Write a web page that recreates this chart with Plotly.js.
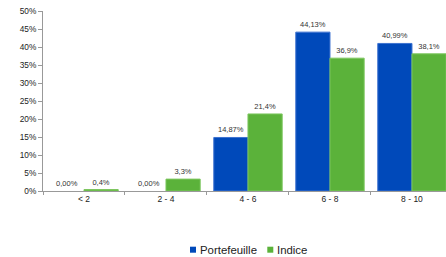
<!DOCTYPE html>
<html><head><meta charset="utf-8">
<script src="https://cdn.plot.ly/plotly-3.0.1.min.js"></script>
<style>html,body{margin:0;padding:0;background:#fff}#chart{width:446px;height:257px}</style>
</head><body><div id="chart"></div>
<script>
const categories = ["< 2", "2 - 4", "4 - 6", "6 - 8", "8 - 10"];
const seriesNames = ["Portefeuille", "Indice"];
const portefeuille = [0.00, 0.00, 14.87, 44.13, 40.99];
const indice = [0.4, 3.3, 21.4, 36.9, 38.1];
const portefeuilleLabels = ["0,00%", "0,00%", "14,87%", "44,13%", "40,99%"];
const indiceLabels = ["0,4%", "3,3%", "21,4%", "36,9%", "38,1%"];
const yTickSuffix = "%";

const BLUE = "#0049BA", GREEN = "#5BB23A";
const FONT = "Liberation Sans, Arial, sans-serif";
const labelFont = {family: FONT, size: 7.5, color: "#333"};
function edgeWidths(vals) { return vals.map(v => v > 0 ? 1 : 0); }

const traces = [
  {type: "bar", name: seriesNames[0], x: categories, y: portefeuille, text: portefeuilleLabels,
   textposition: "outside", textfont: labelFont, cliponaxis: false, hoverinfo: "none", showlegend: false,
   marker: {color: BLUE, line: {color: "#3D72D0", width: edgeWidths(portefeuille)}}},
  {type: "bar", name: seriesNames[1], x: categories, y: indice, text: indiceLabels,
   textposition: "outside", textfont: labelFont, cliponaxis: false, hoverinfo: "none", showlegend: false,
   marker: {color: GREEN, line: {color: "#7CC65E", width: edgeWidths(indice)}}}
];

// legend drawn as small squares + real text (plot area: x 43..446, y 11..191 px)
const px = x => (x - 43) / 403, py = y => (191 - y) / 180;
const legendItems = [
  {name: seriesNames[0], color: BLUE, sq: 190},
  {name: seriesNames[1], color: GREEN, sq: 267.3}
];
const shapes = legendItems.map(it => ({type: "rect", xref: "paper", yref: "paper",
  x0: px(it.sq), x1: px(it.sq + 6), y0: py(252.7), y1: py(246.7), fillcolor: it.color, line: {width: 0}}));
const annotations = legendItems.map(it => ({xref: "paper", yref: "paper", x: px(it.sq + 8.5), y: py(249.8),
  xanchor: "left", yanchor: "middle", text: it.name, showarrow: false, borderpad: 0,
  font: {family: FONT, size: 11.4, color: "#222"}}));

const layout = {
  width: 446, height: 257,
  margin: {l: 43, r: 0, t: 11, b: 66},
  paper_bgcolor: "#fff", plot_bgcolor: "#fff",
  barmode: "group", bargap: 0.166, bargroupgap: 0,
  font: {family: FONT, color: "#222"},
  xaxis: {range: [-0.5, 4.415], showline: true, linecolor: "#999", linewidth: 1,
          ticks: "outside", tickson: "boundaries", ticklen: 3, tickcolor: "#999",
          showgrid: false, tickfont: {size: 8.5, color: "#222"}, fixedrange: true},
  yaxis: {range: [0, 50], dtick: 5, ticksuffix: yTickSuffix, showline: true, linecolor: "#999",
          linewidth: 1, ticks: "outside", ticklen: 4, tickcolor: "#999", showgrid: false,
          zeroline: false, tickfont: {size: 8.3, color: "#222"}, fixedrange: true},
  showlegend: false,
  shapes: shapes,
  annotations: annotations
};
Plotly.newPlot("chart", traces, layout, {displayModeBar: false, staticPlot: true});
</script></body></html>
